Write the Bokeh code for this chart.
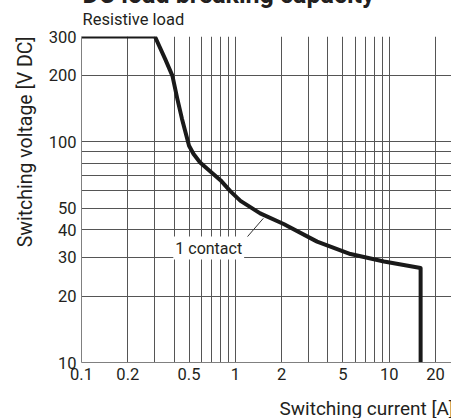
from bokeh.plotting import figure
from bokeh.models import FixedTicker, Label, Range1d, Title
from bokeh.embed import file_html
from bokeh.resources import INLINE

# ---- data ----
current_a = [0.1, 0.3, 0.35, 0.39, 0.42, 0.45, 0.5, 0.535, 0.59, 0.7, 0.8, 0.93,
             1.08, 1.45, 2.06, 3.4, 5.6, 9.25, 16, 16]
voltage_v = [300, 300, 237, 199, 156, 127, 96, 88, 80.6, 72.6, 67, 59.6,
             54, 47.4, 42.4, 35.3, 31, 28.7, 26.8, 10]

x_ticks = [0.1, 0.2, 0.5, 1, 2, 5, 10, 20]
x_tick_labels = ["0.1", "0.2", "0.5", "1", "2", "5", "10", "20"]
y_ticks = [10, 20, 30, 40, 50, 100, 200, 300]
y_tick_labels = ["10", "20", "30", "40", "50", "100", "200", "300"]
x_grid = [0.2, 0.3, 0.4, 0.5, 0.6, 0.7, 0.8, 0.9, 1, 2, 3, 4, 5, 6, 7, 8, 9, 10, 20, 30]
y_grid = [20, 30, 40, 50, 60, 70, 80, 90, 100, 200]

annot_text = "1 contact"
annot_pos = (0.395, 33)
leader_x = [1.2, 1.52]
leader_y = [37.2, 45]

title_text = "DC load breaking capacity"
subtitle_text = "Resistive load"
x_label = "Switching current [A]"
y_label = "Switching voltage [V DC]"

FONT = "Roboto"
TXT = "#231f20"
GRID = "#555555"
SHIFT = 20   # part of the figure above the window top (title is cut like the reference)
EXTRA = 18   # part of the figure below the window bottom (x label is cut like the reference)

p = figure(width=451, height=418 + SHIFT + EXTRA, x_axis_type="log", y_axis_type="log",
           x_range=Range1d(0.1, 25.4), y_range=Range1d(10, 300),
           output_backend="svg", toolbar_location=None,
           min_border_left=81, min_border_right=0,
           min_border_top=36 + SHIFT, min_border_bottom=56 + EXTRA)
p.styles = {"margin-top": f"-{SHIFT}px", "margin-bottom": f"-{EXTRA}px"}
p.outline_line_color = None
p.background_fill_color = "white"
p.border_fill_color = "white"

# axes
for ax, ticks, labels in ((p.xaxis[0], x_ticks, x_tick_labels), (p.yaxis[0], y_ticks, y_tick_labels)):
    ax.ticker = FixedTicker(ticks=ticks)
    ax.major_label_overrides = {t: l for t, l in zip(ticks, labels)}
    ax.major_tick_in = 0
    ax.major_tick_out = 0
    ax.minor_tick_in = 0
    ax.minor_tick_out = 0
    ax.axis_line_color = "#808080"
    ax.axis_line_width = 1
    ax.major_label_text_font = FONT
    ax.major_label_text_font_size = "16.5px"
    ax.major_label_text_color = TXT
p.xaxis.major_label_standoff = 5
p.yaxis.major_label_standoff = 5

# grid
p.xgrid.ticker = FixedTicker(ticks=x_grid)
p.ygrid.ticker = FixedTicker(ticks=y_grid)
for g in (p.xgrid[0], p.ygrid[0]):
    g.grid_line_color = GRID
    g.grid_line_width = 1
    g.grid_line_alpha = 1

# curve
p.line(current_a, voltage_v, line_color="#1a1a1a", line_width=4, line_join="round")
p.line(leader_x, leader_y, line_color="#333333", line_width=1)

p.add_layout(Label(x=annot_pos[0], y=annot_pos[1], text=annot_text,
                   text_font=FONT, text_font_size="16px", text_color=TXT,
                   text_baseline="alphabetic", background_fill_color="white",
                   padding=2))

# titles and axis labels as Title panels
p.add_layout(Title(text=subtitle_text, align="left", offset=1, standoff=15,
                   text_font=FONT, text_font_size="16.5px", text_font_style="normal",
                   text_color=TXT), "above")
p.add_layout(Title(text=title_text, align="left", offset=1, standoff=-17,
                   text_font=FONT, text_font_size="25px", text_font_style="bold",
                   text_color=TXT), "above")
p.add_layout(Title(text=y_label, align="right", offset=0, standoff=18,
                   text_font=FONT, text_font_size="19.5px", text_font_style="normal",
                   text_color=TXT), "left")
p.add_layout(Title(text=x_label, align="left", offset=198, standoff=24,
                   text_font=FONT, text_font_size="19px", text_font_style="normal",
                   text_color=TXT), "below")

open("out.html", "w").write(file_html(p, INLINE))
